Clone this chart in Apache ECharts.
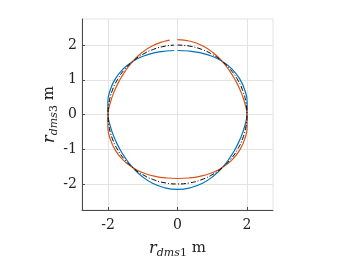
<!DOCTYPE html>
<html>
<head>
<meta charset="utf-8">
<script src="https://cdn.jsdelivr.net/npm/echarts@6/dist/echarts.min.js"></script>
<style>html,body{margin:0;padding:0;background:#fff}#c{width:344px;height:258px}</style>
</head>
<body>
<div id="c"></div>
<script>
// angles (deg) walked clockwise from the top, shared by all curves
const angles = [90, 80, 70, 60, 50, 40, 30, 20, 10, 0, -10, -20, -30, -40, -50, -60, -70, -80, -90,
  -100, -110, -120, -130, -140, -150, -160, -170, -180, -190, -200, -210, -220, -230, -240, -250, -260];
// end angles (where each curve stops, leaving a small gap near the top)
const orangeEnd = -264;
const blueEnd = -267;
const blackEnd = -267;
// radii
const orangeR = [2.157, 2.143, 2.106, 2.054, 2.0, 1.958, 1.936, 1.939, 1.963, 2.0, 2.037, 2.061, 2.064, 2.042, 2.0,
  1.946, 1.894, 1.857, 1.843, 1.857, 1.894, 1.946, 2.0, 2.042, 2.064, 2.061, 2.037, 2.0, 1.963, 1.939, 1.936,
  1.958, 2.0, 2.054, 2.106, 2.143, 2.153];
const blueR = [1.843, 1.857, 1.894, 1.946, 2.0, 2.042, 2.064, 2.061, 2.037, 2.0, 1.963, 1.939, 1.936, 1.958, 2.0,
  2.054, 2.106, 2.143, 2.157, 2.143, 2.106, 2.054, 2.0, 1.958, 1.936, 1.939, 1.963, 2.0, 2.037, 2.061, 2.064,
  2.042, 2.0, 1.946, 1.894, 1.857, 1.845];
const blackR = [2, 2, 2, 2, 2, 2, 2, 2, 2, 2, 2, 2, 2, 2, 2, 2, 2, 2, 2, 2, 2, 2, 2, 2, 2, 2, 2, 2, 2, 2, 2, 2, 2, 2, 2, 2, 2];
const xTicks = [-2, 0, 2];
const yTicks = [-2, -1, 0, 1, 2];

function toXY(radii, endAngle) {
  const a = angles.concat([endAngle]);
  return radii.map((r, i) => {
    const t = a[i] * Math.PI / 180;
    return [r * Math.cos(t), r * Math.sin(t)];
  });
}

const font = 'DejaVu Serif';
const axisCol = '#4a4a4a';
const gridCol = '#e3e3e3';
const rich = {
  i: { fontFamily: font, fontStyle: 'italic', fontSize: 16, color: '#222' },
  s: { fontFamily: font, fontStyle: 'italic', fontSize: 11, color: '#222', padding: [10, 0, 0, 0] },
  n: { fontFamily: font, fontSize: 11, color: '#222', padding: [10, 0, 0, 0] },
  t: { fontFamily: font, fontSize: 15, color: '#222' }
};

const chart = echarts.init(document.getElementById('c'), null, { renderer: 'canvas' });
chart.setOption({
  backgroundColor: '#fff',
  animation: false,
  grid: { left: 82, top: 19, width: 191, height: 191, show: true, borderColor: gridCol, borderWidth: 1,
    containLabel: false, outerBoundsMode: 'none' },
  xAxis: {
    type: 'value', min: -2.75, max: 2.75,
    axisLine: { show: true, onZero: false, lineStyle: { color: axisCol, width: 1 } },
    axisTick: { show: true, inside: true, length: 3, customValues: xTicks, lineStyle: { color: axisCol } },
    axisLabel: { customValues: xTicks, fontFamily: font, fontSize: 14, color: '#222', margin: 8 },
    splitLine: { show: true, customValues: xTicks, lineStyle: { color: gridCol, width: 1 } },
    name: '{i|r}{s|dms}{n|1}{t| m}',
    nameLocation: 'middle', nameGap: 28, nameMoveOverlap: false,
    nameTextStyle: { rich: rich }
  },
  yAxis: {
    type: 'value', min: -2.75, max: 2.75,
    axisLine: { show: true, onZero: false, lineStyle: { color: axisCol, width: 1 } },
    axisTick: { show: true, inside: true, length: 3, customValues: yTicks, lineStyle: { color: axisCol } },
    axisLabel: { customValues: yTicks, fontFamily: font, fontSize: 14, color: '#222', margin: 5 },
    splitLine: { show: true, customValues: yTicks, lineStyle: { color: gridCol, width: 1 } },
    name: '{i|r}{s|dms}{n|3}{t| m}',
    nameLocation: 'middle', nameGap: 22, nameRotate: 90, nameMoveOverlap: false,
    nameTextStyle: { rich: rich }
  },
  series: [
    { type: 'line', data: toXY(blueR, blueEnd), showSymbol: false, smooth: true,
      lineStyle: { color: '#0072BD', width: 1.2 } },
    { type: 'line', data: toXY(orangeR, orangeEnd), showSymbol: false, smooth: true,
      lineStyle: { color: '#D95319', width: 1.2 } },
    { type: 'line', data: toXY(blackR, blackEnd), showSymbol: false, smooth: true,
      lineStyle: { color: '#000', width: 1, type: [5, 2, 1, 2] } }
  ]
});
</script>
</body>
</html>
